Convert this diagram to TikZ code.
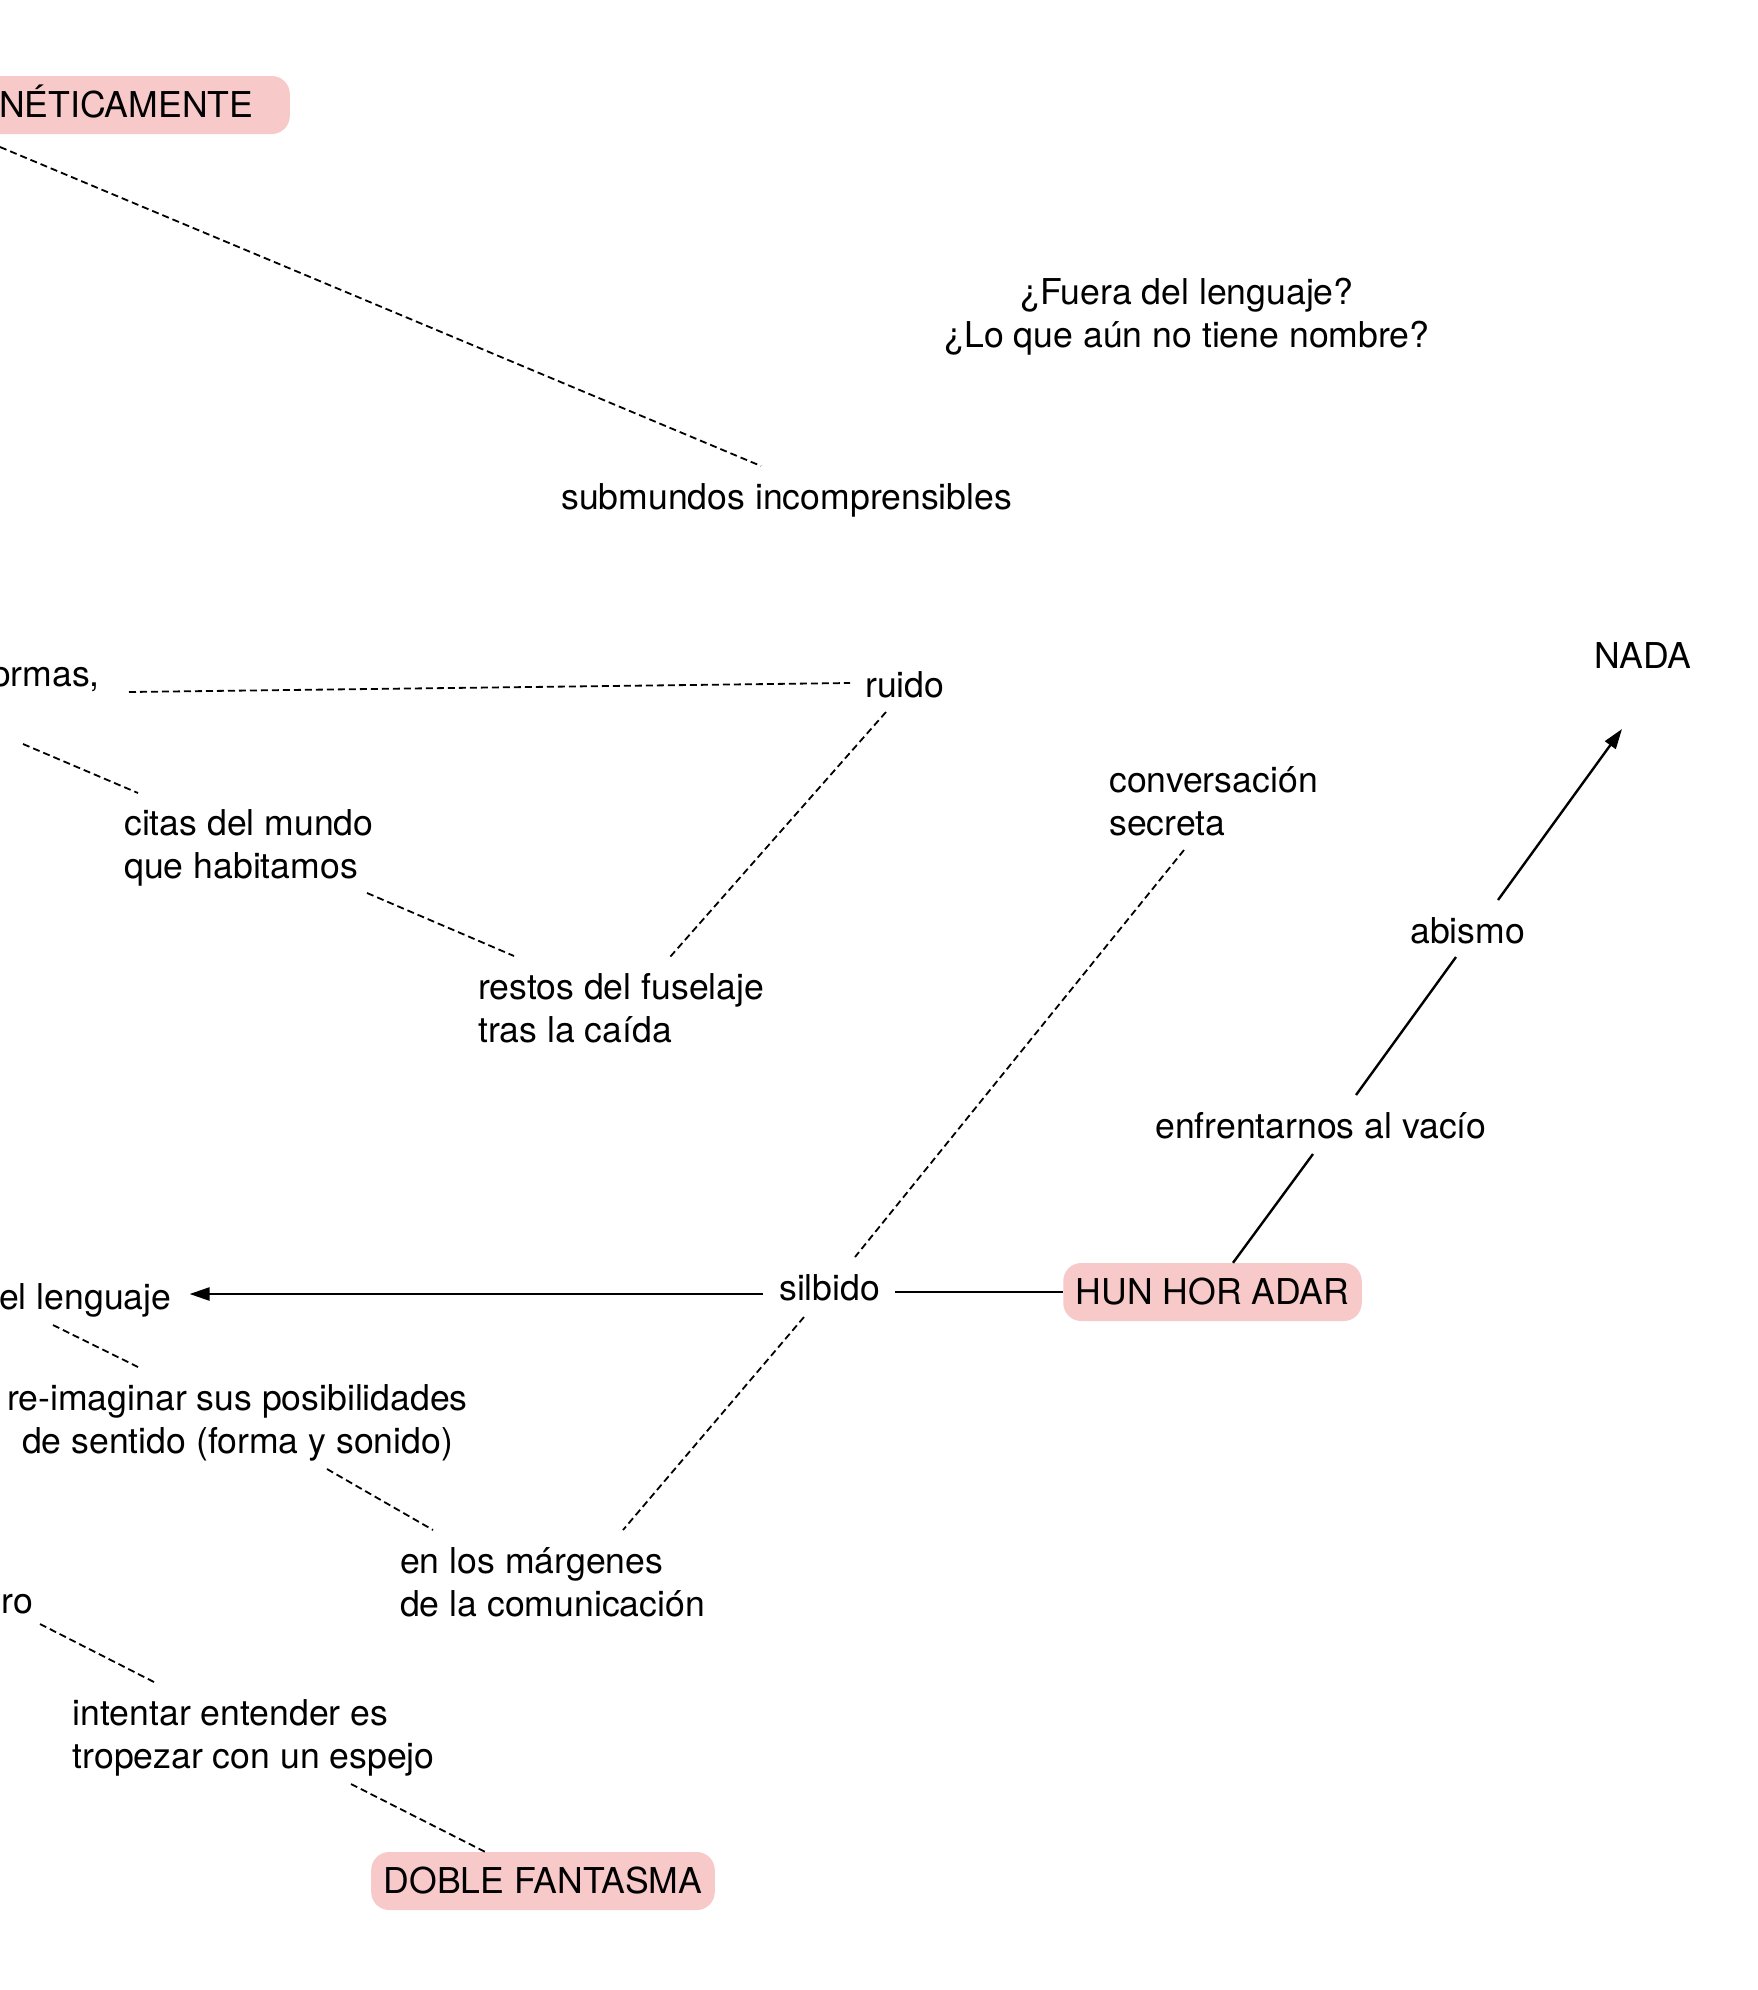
\documentclass[tikz,border=0pt]{standalone}
\usepackage{fontspec}
\setmainfont{TeX Gyre Heros}
\usetikzlibrary{arrows.meta,calc}
\definecolor{boxpink}{RGB}{247,201,201}
\newcommand\fstrut{\rule{0pt}{28pt}}
\begin{document}
\begin{tikzpicture}[x=1pt,y=-1pt,
  txt/.style={inner sep=0pt, font=\fontsize{35.6}{43.5}\selectfont},
  pinkbox/.style={fill=boxpink, rounded corners=18pt, inner xsep=12.5pt, inner ysep=16.5pt,
    text height=25pt, text depth=0pt, font=\fontsize{35.6}{43.5}\selectfont},
  dotline/.style={line width=1.8pt, dash pattern=on 7pt off 4pt},
  solidline/.style={line width=2.4pt},
  arr/.style={-{Triangle[length=20pt,width=13pt]}},
]
\useasboundingbox (0,0) rectangle (1757,1990);
\fill[white] (0,0) rectangle (1757,1990);
\clip (0,0) rectangle (1757,1990);

% nodes
\node[pinkbox, anchor=east] (neti) at (290,105) {\hspace*{30pt}NÉTICAMENTE\hspace*{24pt}};
\node[txt, anchor=north, align=center] (fuera) at (1187,276) {\fstrut¿Fuera del lenguaje?\\¿Lo que aún no tiene nombre?};
\node[txt, anchor=base west] (sub) at (561,509) {submundos incomprensibles};
\node[txt, anchor=base west] (nada) at (1594,668) {NADA};
\node[txt, anchor=base east] (ormas) at (100,686) {ormas,};
\node[txt, anchor=base west] (ruido) at (865,697) {ruido};
\node[txt, anchor=north west, align=left] (conv) at (1109,764) {\fstrut conversación\\secreta};
\node[txt, anchor=north west, align=left] (citas) at (124,807) {\fstrut citas del mundo\\que habitamos};
\node[txt, anchor=base west] (abismo) at (1410,943) {abismo};
\node[txt, anchor=north west, align=left] (restos) at (478,971) {\fstrut restos del fuselaje\\tras la caída};
\node[txt, anchor=base west] (enfr) at (1155,1138) {enfrentarnos al vacío};
\node[txt, anchor=base west] (leng) at (-1,1309) {el lenguaje};
\node[txt, anchor=base west] (silb) at (779,1300) {silbido};
\node[pinkbox] (hun) at (1212.5,1292) {HUN HOR ADAR};
\node[txt, anchor=north, align=center] (reim) at (237.5,1382) {\fstrut re-imaginar sus posibilidades\\de sentido (forma y sonido)};
\node[txt, anchor=north west, align=left] (marg) at (400,1545) {\fstrut en los márgenes\\de la comunicación};
\node[txt, anchor=base east] (ro) at (33,1613) {ro};
\node[txt, anchor=north west, align=left] (inten) at (72.5,1697) {\fstrut intentar entender es\\tropezar con un espejo};
\node[pinkbox] (doble) at (543,1881) {DOBLE FANTASMA};

% connectors
\coordinate (netiout) at (0,147);
\draw[dotline] (netiout) -- ([shift={(200,-43)}]sub.base west);
\draw[dotline] ([shift={(29,6)}]ormas.base east) -- ([shift={(-15,-14)}]ruido.base west);
\draw[dotline] ([shift={(-77,58)}]ormas.base east) -- ([shift={(14,-14)}]citas.north west);
\draw[dotline] ([shift={(21,15)}]ruido.base west) -- ([shift={(192,-14)}]restos.north west);
\draw[dotline] ([shift={(243,86)}]citas.north west) -- ([shift={(36,-15)}]restos.north west);
\draw[dotline] ([shift={(75,86)}]conv.north west) -- ([shift={(76,-43)}]silb.base west);
\draw[solidline] ([shift={(20.5,0)}]hun.north) -- ([shift={(158,16)}]enfr.base west);
\draw[solidline] ([shift={(201,-43)}]enfr.base west) -- ([shift={(46,14)}]abismo.base west);
\draw[solidline,arr] ([shift={(88,-43)}]abismo.base west) -- ([shift={(28,61)}]nada.base west);
\draw[solidline] ([shift={(15,-8)}]silb.base east) -- (hun.west);
\draw[solidline,arr] ([shift={(-16,-6)}]silb.base west) -- ([shift={(18,-15)}]leng.base east);
\draw[dotline] ([shift={(54,16)}]leng.base west) -- ([shift={(-99.5,-15)}]reim.north);
\draw[dotline] ([shift={(89.5,87)}]reim.north) -- ([shift={(33,-15)}]marg.north west);
\draw[dotline] ([shift={(25,17)}]silb.base west) -- ([shift={(223,-15)}]marg.north west);
\draw[dotline] ([shift={(7,11)}]ro.base east) -- ([shift={(81.5,-15)}]inten.north west);
\draw[dotline] ([shift={(278.5,87)}]inten.north west) -- ([shift={(-58,0)}]doble.north);
\end{tikzpicture}
\end{document}
